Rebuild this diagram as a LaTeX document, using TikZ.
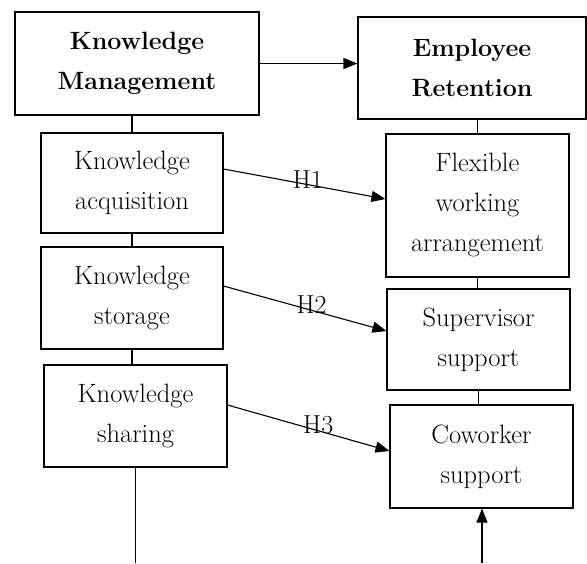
\documentclass[tikz,border=0pt]{standalone}
\usetikzlibrary{arrows.meta}
\begin{document}
\begin{tikzpicture}[x=1pt,y=-1pt,line width=1.1pt,
    box/.style={draw,align=center,inner sep=0pt,font=\fontsize{26.5}{40}\selectfont},
    headbox/.style={box,font=\fontsize{25}{40}\selectfont\bfseries},
    hyp/.style={above=-4pt,inner sep=0pt,font=\fontsize{26}{30}\selectfont},
    >={Triangle[length=14pt,width=11pt]}]
      \useasboundingbox (0,0) rectangle (587,563);
      \draw
        (137,63.5) node[headbox,minimum width=244pt,minimum height=103pt] (km){Knowledge\\Management}
        (472,68) node[headbox,minimum width=228pt,minimum height=102pt] (er){Employee\\Retention}
        (132,183) node[box,minimum width=182pt,minimum height=100pt] (ka){Knowledge\\acquisition}
        (132,298) node[box,minimum width=182pt,minimum height=102pt] (ks){Knowledge\\storage}
        (135.5,416) node[box,minimum width=183pt,minimum height=102pt] (ksh){Knowledge\\sharing}
        (477.5,205.5) node[box,minimum width=183pt,minimum height=143pt] (fwa){Flexible\\working\\arrangement}
        (478.5,339.5) node[box,minimum width=183pt,minimum height=101pt] (ss){Supervisor\\support}
        (481.5,456.5) node[box,minimum width=183pt,minimum height=103pt] (cs){Coworker\\support};
      \coordinate (kbot) at (ksh.south |- 0,563);
      \coordinate (cbot) at (482,563);
      \begin{scope}[-]
        \draw (ka.north) to (ka.north |- km.south);
        \draw (ks.north) to (ks.north |- ka.south);
        \draw (ks.south) to (ks.south |- ksh.north);
        \draw (ksh.south) to (kbot);
        \draw (fwa.north) to (fwa.north |- er.south);
        \draw (fwa.south) to (fwa.south |- ss.north);
        \draw (ss.south) to (ss.south |- cs.north);
      \end{scope}
      \begin{scope}[->]
        \draw (km.east) to (km.east -| er.west);
        \draw ([yshift=14pt]ka.east) to node[hyp,pos=.52]{H1} ([yshift=6.5pt]fwa.west);
        \draw ([yshift=12pt]ks.east) to node[hyp,pos=.54]{H2} ([yshift=8.5pt]ss.west);
        \draw ([yshift=11pt]ksh.east) to node[hyp,pos=.56]{H3} ([yshift=5.5pt]cs.west);
        \draw (cbot) to (cbot |- cs.south);
      \end{scope}
    \end{tikzpicture}
\end{document}
